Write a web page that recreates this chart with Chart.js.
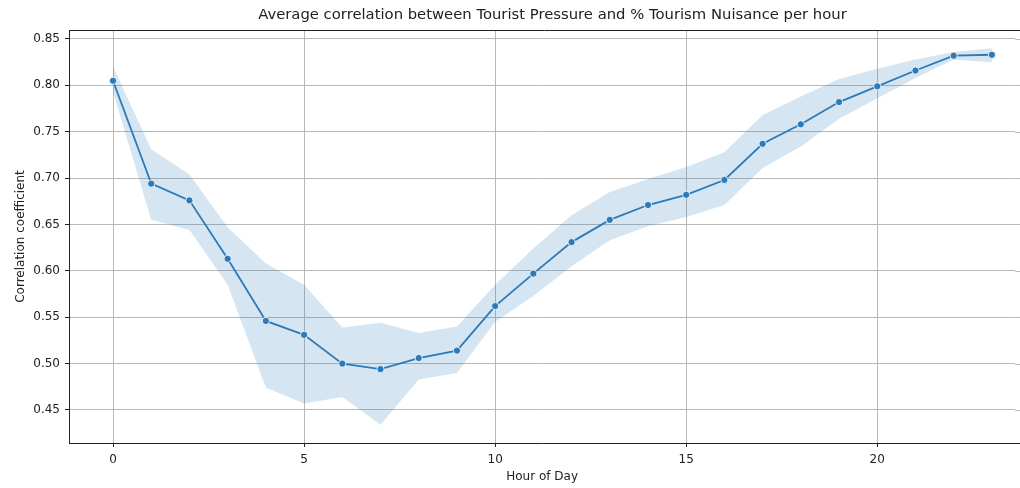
<!DOCTYPE html>
<html>
<head>
<meta charset="utf-8">
<script src="https://cdn.jsdelivr.net/npm/chart.js@4/dist/chart.umd.min.js"></script>
<style>
  html, body { margin: 0; padding: 0; background: #fff; }
  #wrap { width: 1020px; height: 488px; }
</style>
</head>
<body>
<div id="wrap"><canvas id="grafico"></canvas></div>
<script>
// horas do dia e correlacao media, com a banda de confianca
const horas = [0, 1, 2, 3, 4, 5, 6, 7, 8, 9, 10, 11, 12, 13, 14, 15, 16, 17, 18, 19, 20, 21, 22, 23];
const media = [0.805, 0.694, 0.676, 0.613, 0.546, 0.531, 0.500, 0.494, 0.506, 0.514, 0.562, 0.597,
               0.631, 0.655, 0.671, 0.682, 0.698, 0.737, 0.758, 0.782, 0.799, 0.816, 0.832, 0.833];
const superior = [0.820, 0.731, 0.704, 0.647, 0.608, 0.585, 0.539, 0.544, 0.533, 0.540, 0.585, 0.624,
                  0.660, 0.685, 0.699, 0.712, 0.728, 0.768, 0.788, 0.807, 0.818, 0.828, 0.836, 0.840];
const inferior = [0.793, 0.655, 0.644, 0.585, 0.474, 0.457, 0.464, 0.434, 0.483, 0.490, 0.545, 0.573,
                  0.605, 0.633, 0.648, 0.658, 0.671, 0.711, 0.734, 0.764, 0.786, 0.808, 0.828, 0.825];
const ticksX = [0, 5, 10, 15, 20];
const ticksY = [0.45, 0.50, 0.55, 0.60, 0.65, 0.70, 0.75, 0.80, 0.85];

const titulo = 'Average correlation between Tourist Pressure and % Tourism Nuisance per hour';
const azul = '#2b7bba';
const fonte = 'DejaVu Sans';
const corGrade = '#b8b8b8';

const pontos = arr => horas.map((h, i) => ({ x: h, y: arr[i] }));

// o eixo continua alem da borda direita: prolonga grade e linhas ate a borda
const moldura = {
  id: 'moldura',
  beforeDatasetsDraw(chart) {
    const { ctx, chartArea: a, scales } = chart;
    ctx.save();
    ctx.strokeStyle = corGrade;
    ctx.lineWidth = 1;
    ticksY.forEach(v => {
      const y = Math.round(scales.y.getPixelForValue(v)) + 0.5;
      ctx.beginPath();
      ctx.moveTo(a.right, y);
      ctx.lineTo(chart.width, y);
      ctx.stroke();
    });
    ctx.restore();
  },
  afterDraw(chart) {
    const { ctx, chartArea: a, scales } = chart;
    ctx.save();
    ctx.strokeStyle = '#222';
    ctx.lineWidth = 1;
    ctx.beginPath();
    ctx.moveTo(a.left, a.top + 0.5);
    ctx.lineTo(chart.width, a.top + 0.5);
    ctx.moveTo(a.right - 1, a.bottom + 0.5);
    ctx.lineTo(chart.width, a.bottom + 0.5);
    ctx.stroke();
    ctx.fillStyle = '#222';
    ctx.font = '14.8px "' + fonte + '"';
    ctx.textAlign = 'center';
    ctx.textBaseline = 'middle';
    const centro = scales.x.getPixelForValue(11.5);
    ctx.fillText(titulo, centro, 15);
    ctx.restore();
  }
};

new Chart(document.getElementById('grafico'), {
  type: 'line',
  data: {
    datasets: [
      {
        label: 'media',
        data: pontos(media),
        borderColor: azul,
        borderWidth: 1.8,
        pointRadius: 3.6,
        pointBackgroundColor: azul,
        pointBorderColor: '#fff',
        pointBorderWidth: 0.8,
        fill: false,
        tension: 0
      },
      {
        label: 'inferior',
        data: pontos(inferior),
        borderWidth: 0,
        pointRadius: 0,
        fill: false
      },
      {
        label: 'superior',
        data: pontos(superior),
        borderWidth: 0,
        pointRadius: 0,
        fill: '-1',
        backgroundColor: 'rgba(43, 123, 186, 0.2)'
      }
    ]
  },
  options: {
    responsive: true,
    maintainAspectRatio: false,
    animation: false,
    layout: { padding: { top: 30, left: 0, right: 0, bottom: 0 } },
    plugins: {
      legend: { display: false },
      tooltip: { enabled: false },
      title: { display: false }
    },
    scales: {
      x: {
        type: 'linear',
        min: -1.152,
        max: 23.61,
        afterBuildTicks: s => { s.ticks = ticksX.map(v => ({ value: v })); },
        afterFit: s => { s.height = 45; },
        grid: { color: corGrade, lineWidth: 1, tickLength: 4, tickColor: '#222' },
        border: { color: '#222', width: 1 },
        ticks: { color: '#222', font: { family: fonte, size: 12 }, padding: 6, maxRotation: 0 },
        title: { display: true, text: 'Hour of Day', color: '#222', font: { family: fonte, size: 12 }, padding: { top: 2, bottom: 4 } }
      },
      y: {
        min: 0.4144,
        max: 0.8597,
        afterBuildTicks: s => { s.ticks = ticksY.map(v => ({ value: v })); },
        afterFit: s => { s.width = 69; },
        grid: { color: corGrade, lineWidth: 1, tickLength: 4, tickColor: '#222' },
        border: { color: '#222', width: 1 },
        ticks: { color: '#222', font: { family: fonte, size: 12 }, padding: 5, callback: v => v.toFixed(2) },
        title: { display: true, text: 'Correlation coefficient', color: '#222', font: { family: fonte, size: 12 }, padding: { top: 14, bottom: 2 } }
      }
    }
  },
  plugins: [moldura]
});
</script>
</body>
</html>
